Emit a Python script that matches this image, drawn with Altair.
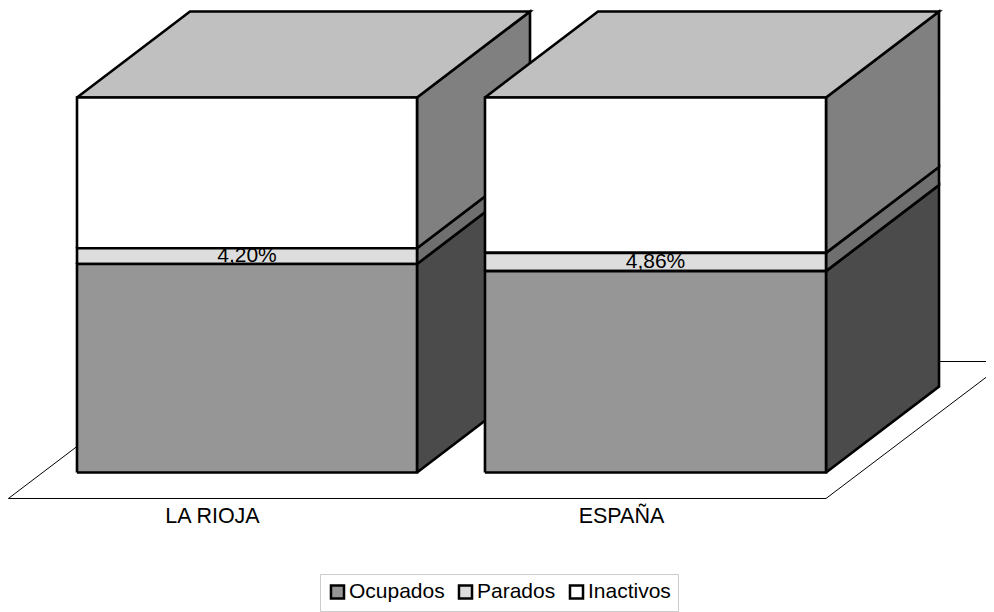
import altair as alt
import pandas as pd

categories = ["LA RIOJA", "ESPAÑA"]
series = ["Ocupados", "Parados", "Inactivos"]
ocupados = [55.6, 53.7]
parados = [4.20, 4.86]
inactivos = [40.2, 41.44]
front_colors = ["#969696", "#dddddd", "#ffffff"]
side_colors = ["#4b4b4b", "#6f6f6f", "#808080"]
top_color = "#c0c0c0"

FONT = "Liberation Sans"
FS = 21
BAR_LEFT = 0.1687
DX, DY = 0.2763, 22.93
FLOOR_Y = -6.93
FLOOR_DX, FLOOR_DY = 0.4425, 36.53
W, H = 978, 604
X_DOMAIN = [0, W / 409]
Y_DOMAIN = [(472.5 - 8 - H) / 3.75, (472.5 - 8) / 3.75]
LABEL_Y = -11.8

x_scale = alt.Scale(domain=X_DOMAIN, nice=False, zero=False)
y_scale = alt.Scale(domain=Y_DOMAIN, nice=False, zero=False)


def enc(chart):
    return chart.encode(
        x=alt.X("x:Q", scale=x_scale, axis=None),
        y=alt.Y("y:Q", scale=y_scale, axis=None),
    )


def poly(points, fill, width=2.6, clip=False):
    df = pd.DataFrame(
        [{"x": p[0], "y": p[1], "k": i} for i, p in enumerate(points + [points[0]])]
    )
    return enc(
        alt.Chart(df).mark_line(
            fill=fill, stroke="black", strokeWidth=width, strokeJoin="miter",
            clip=clip, interpolate="linear",
        )
    ).encode(order="k:Q")


layers = []
layers.append(
    poly(
        [
            (0.001, FLOOR_Y),
            (2.0, FLOOR_Y),
            (2.0 + FLOOR_DX, FLOOR_Y + FLOOR_DY),
            (FLOOR_DX, FLOOR_Y + FLOOR_DY),
        ],
        "#ffffff",
        width=1,
        clip=True,
    )
)

for i, cat in enumerate(categories):
    l, r = i + BAR_LEFT - (0.0025 if i else 0), i + 1.0
    vals = [ocupados[i], parados[i], inactivos[i]]
    edges = [0, vals[0], vals[0] + vals[1], vals[0] + vals[1] + vals[2]]
    for s in range(3):
        layers.append(
            poly(
                [
                    (r, edges[s]),
                    (r + DX, edges[s] + DY),
                    (r + DX, edges[s + 1] + DY),
                    (r, edges[s + 1]),
                ],
                side_colors[s],
            )
        )
    layers.append(
        poly(
            [
                (l, edges[3]),
                (r, edges[3]),
                (r + DX, edges[3] + DY),
                (l + DX, edges[3] + DY),
            ],
            top_color,
        )
    )
    for s in [2, 1]:
        layers.append(
            poly(
                [(l, edges[s]), (r, edges[s]), (r, edges[s + 1]), (l, edges[s + 1])],
                front_colors[s],
            )
        )
    label_df = pd.DataFrame(
        [
            {
                "x": (l + r) / 2,
                "y": edges[1] + vals[1] / 2,
                "t": f"{vals[1]:.2f}%".replace(".", ","),
            }
        ]
    )
    layers.append(
        enc(alt.Chart(label_df).mark_text(font=FONT, fontSize=FS, color="#000000", baseline="middle"))
        .encode(text="t:N")
    )
    layers.append(
        poly(
            [(l, edges[0]), (r, edges[0]), (r, edges[1]), (l, edges[1])],
            front_colors[0],
        )
    )

cat_df = pd.DataFrame(
    {"x": [i + 0.5 for i in range(len(categories))], "y": [LABEL_Y] * 2, "t": categories}
)
layers.append(
    enc(alt.Chart(cat_df).mark_text(font=FONT, fontSize=21.5, color="#000000", baseline="middle"))
    .encode(text="t:N")
)

leg_df = pd.DataFrame({"x": [0.0] * 3, "y": [0.0] * 3, "s": series})
layers.append(
    enc(alt.Chart(leg_df).mark_point(size=0, filled=True, opacity=1))
    .encode(
        fill=alt.Fill(
            "s:N",
            scale=alt.Scale(domain=series, range=front_colors),
            legend=alt.Legend(
                title=None,
                orient="none",
                legendX=312,
                legendY=566,
                direction="horizontal",
                columns=3,
                columnPadding=8,
                symbolType="square",
                symbolSize=170,
                symbolStrokeColor="#000000",
                symbolStrokeWidth=2.5,
                symbolOpacity=1,
                labelFont=FONT,
                labelFontSize=FS,
                labelColor="#000000",
                labelOffset=1,
                fillColor="#ffffff",
                strokeColor="#cccccc",
                padding=7,
            ),
        )
    )
)

chart = (
    alt.layer(*layers)
    .properties(width=W, height=H, padding=0, autosize=alt.AutoSizeParams(type="none"))
    .configure_view(stroke=None)
)

chart.save("out.html", embed_options={"renderer": "svg", "actions": False})
